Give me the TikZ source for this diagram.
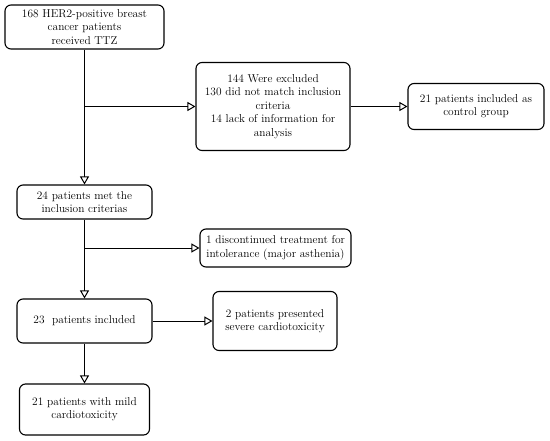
\documentclass[tikz,border=0pt]{standalone}
\usetikzlibrary{arrows.meta}
\begin{document}
\begin{tikzpicture}[x=1pt,y=-1pt,
  box/.style={draw=black,line width=1.1pt,rounded corners=6pt,align=center,font=\fontsize{11.4}{13.4}\selectfont,inner sep=2pt},
  conn/.style={line width=1pt,-{Triangle[open,length=8pt,width=9pt,line width=1pt]}}]
\useasboundingbox (0,0) rectangle (550,440);
\node[box,minimum width=159pt,minimum height=44pt] (n1) at (84.5,27) {168 HER2-positive breast\\cancer patients\\received TTZ};
\node[box,minimum width=154pt,minimum height=88pt] (n2) at (273,106.5) {144 Were excluded\\130 did not match inclusion\\criteria\\14 lack of information for\\analysis};
\node[box,minimum width=136pt,minimum height=46pt] (n3) at (476,106.5) {21 patients included as\\control group};
\node[box,minimum width=135pt,minimum height=34pt] (n4) at (84.5,202) {24 patients met the\\inclusion criterias};
\node[box,minimum width=151pt,minimum height=38pt] (n5) at (275.5,248) {1 discontinued treatment for\\intolerance (major asthenia)};
\node[box,minimum width=135pt,minimum height=44pt] (n6) at (84.5,321) {23\ \ patients included};
\node[box,minimum width=124pt,minimum height=59pt] (n7) at (275,321) {2 patients presented\\severe cardiotoxicity};
\node[box,minimum width=130pt,minimum height=51pt] (n8) at (84.5,409.5) {21 patients with mild\\cardiotoxicity};
\coordinate (b1) at (n1.south |- n2.west);
\coordinate (b2) at (n4.south |- n5.west);
\draw[conn] (n1.south) -- (n4.north);
\draw[conn] (b1) -- (n2.west);
\draw[conn] (n2.east) -- (n3.west);
\draw[conn] (n4.south) -- (n6.north);
\draw[conn] (b2) -- (n5.west);
\draw[conn] (n6.east) -- (n7.west);
\draw[conn] (n6.south) -- (n8.north);
\end{tikzpicture}
\end{document}
